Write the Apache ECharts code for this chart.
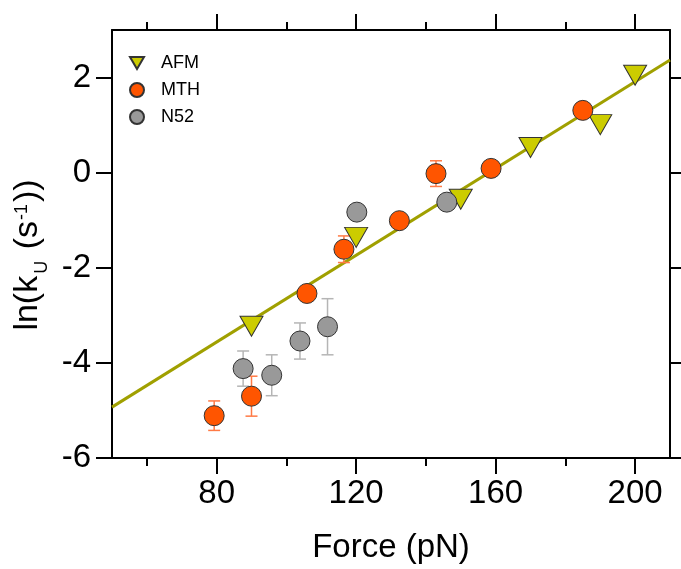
<!DOCTYPE html>
<html>
<head>
<meta charset="utf-8">
<script src="https://cdn.jsdelivr.net/npm/echarts@6/dist/echarts.min.js"></script>
<style>
  html, body { margin: 0; padding: 0; background: #fff; }
  #chart { width: 681px; height: 569px; }
</style>
</head>
<body>
<div id="chart"></div>
<script>
// Unfolding rate vs. force for three measurement methods
const afmForce = [90, 120, 150, 170, 190, 200];
const afmLnK   = [-3.23, -1.36, -0.56, 0.53, 1.01, 2.05];

const mthForce = [79.3, 90, 105.9, 116.5, 132.4, 142.9, 158.7, 185.0];
const mthLnK   = [-5.11, -4.70, -2.54, -1.61, -1.01, -0.02, 0.09, 1.31];
const mthErr   = [0.31, 0.42, 0, 0.28, 0, 0.27, 0, 0];

const n52Force = [87.6, 95.8, 103.9, 111.8, 120.2, 146.0];
const n52LnK   = [-4.12, -4.26, -3.54, -3.24, -0.83, -0.62];
const n52Err   = [0.37, 0.43, 0.38, 0.59, 0, 0];

// Linear fit endpoints across the force range
const fitForce = [50, 210];
const fitLnK   = [-4.93, 2.37];

const xMajorTicks = [80, 120, 160, 200];
const xMinorTicks = [60, 100, 140, 180];
const yMajorTicks = [-6, -4, -2, 0, 2];

const FONT = 'Liberation Sans, Arial, Helvetica, sans-serif';
const zip = (a, b) => a.map((v, i) => [v, b[i]]);
const errData = (xs, ys, es) => xs.map((x, i) => [x, ys[i] - es[i], ys[i] + es[i]]).filter((d, i) => es[i] > 0);

function errorBars(color) {
  return function (params, api) {
    const x = api.value(0);
    const lo = api.coord([x, api.value(1)]);
    const hi = api.coord([x, api.value(2)]);
    const half = 6;
    const style = { stroke: color, lineWidth: 1.5, fill: null };
    return {
      type: 'group',
      children: [
        { type: 'line', shape: { x1: lo[0], y1: lo[1], x2: hi[0], y2: hi[1] }, style },
        { type: 'line', shape: { x1: lo[0] - half, y1: lo[1], x2: lo[0] + half, y2: lo[1] }, style },
        { type: 'line', shape: { x1: hi[0] - half, y1: hi[1], x2: hi[0] + half, y2: hi[1] }, style }
      ]
    };
  };
}

const axisLineStyle = { color: '#000', width: 2 };

function xAxisDef(position, ticks, len, showLine, withLabels) {
  return {
    type: 'value', position, min: 50, max: 210,
    axisLine: { show: showLine, onZero: false, lineStyle: axisLineStyle },
    axisTick: { show: true, inside: false, length: len, customValues: ticks, lineStyle: { color: '#000', width: 2 } },
    axisLabel: withLabels
      ? { show: true, customValues: ticks, fontSize: 33, fontFamily: FONT, color: '#000', margin: 19 }
      : { show: false },
    splitLine: { show: false }
  };
}

const chart = echarts.init(document.getElementById('chart'), null, { renderer: 'canvas' });

chart.setOption({
  animation: false,
  backgroundColor: '#fff',
  grid: { left: 112, right: 11, top: 30, bottom: 111, containLabel: false, outerBoundsMode: 'none' },
  legend: {
    orient: 'vertical', left: 124, top: 49,
    itemWidth: 14, itemHeight: 14, itemGap: 9,
    textStyle: { fontSize: 18, fontFamily: FONT, color: '#000', padding: [0, 0, 0, 12], lineHeight: 18 },
    data: [
      { name: 'AFM', icon: 'path://M-1,-0.85 L1,-0.85 L0,0.85 Z' },
      { name: 'MTH', icon: 'circle' },
      { name: 'N52', icon: 'circle' }
    ]
  },
  xAxis: [
    Object.assign(xAxisDef('bottom', xMajorTicks, 16, true, true), {
      name: 'Force (pN)', nameLocation: 'middle', nameGap: 73,
      nameTextStyle: { fontSize: 33, fontFamily: FONT, color: '#000' }
    }),
    xAxisDef('bottom', xMinorTicks, 8, false, false),
    xAxisDef('top', xMajorTicks, 16, true, false),
    xAxisDef('top', xMinorTicks, 8, false, false)
  ],
  yAxis: [
    {
      type: 'value', position: 'left', min: -6, max: 3,
      axisLine: { show: true, onZero: false, lineStyle: axisLineStyle },
      axisTick: { show: true, inside: false, length: 16, customValues: yMajorTicks, lineStyle: { color: '#000', width: 2 } },
      axisLabel: { customValues: yMajorTicks, fontSize: 33, fontFamily: FONT, color: '#000', margin: 21 },
      splitLine: { show: false },
      name: '{n|ln(k}{sub|U}{n| (s}{sup|-1}{n|))}',
      nameLocation: 'middle', nameGap: 62, nameRotate: 90,
      nameTextStyle: {
        fontFamily: FONT, color: '#000', fontSize: 34,
        padding: [0, 22, 0, 0],
        rich: {
          n: { fontSize: 34, fontFamily: FONT, color: '#000', lineHeight: 40 },
          sub: { fontSize: 18, fontFamily: FONT, color: '#000', verticalAlign: 'bottom', lineHeight: 40, padding: [0, 2, -3, 2] },
          sup: { fontSize: 18, fontFamily: FONT, color: '#000', verticalAlign: 'top', lineHeight: 40, padding: [5, 2, 0, 1] }
        }
      }
    },
    {
      type: 'value', position: 'right', min: -6, max: 3,
      axisLine: { show: true, onZero: false, lineStyle: axisLineStyle },
      axisTick: { show: true, inside: false, length: 16, customValues: yMajorTicks, lineStyle: { color: '#000', width: 2 } },
      axisLabel: { show: false },
      splitLine: { show: false }
    }
  ],
  series: [
    {
      type: 'line', name: 'fit', data: zip(fitForce, fitLnK), symbol: 'none', z: 1,
      lineStyle: { color: '#a0a000', width: 3 }
    },
    {
      type: 'custom', name: 'MTH error', data: errData(mthForce, mthLnK, mthErr), z: 2,
      renderItem: errorBars('#ff7a45'), silent: true
    },
    {
      type: 'custom', name: 'N52 error', data: errData(n52Force, n52LnK, n52Err), z: 2,
      renderItem: errorBars('#b5b5b5'), silent: true
    },
    {
      type: 'scatter', name: 'AFM', data: zip(afmForce, afmLnK), z: 3,
      symbol: 'triangle', symbolRotate: 180, symbolSize: [23, 20],
      itemStyle: { color: '#cccc00', borderColor: '#333', borderWidth: 1, opacity: 1 }
    },
    {
      type: 'scatter', name: 'MTH', data: zip(mthForce, mthLnK), z: 4,
      symbol: 'circle', symbolSize: 20,
      itemStyle: { color: '#ff5500', borderColor: '#333', borderWidth: 1, opacity: 1 }
    },
    {
      type: 'scatter', name: 'N52', data: zip(n52Force, n52LnK), z: 5,
      symbol: 'circle', symbolSize: 20,
      itemStyle: { color: '#999999', borderColor: '#333', borderWidth: 1, opacity: 1 }
    }
  ]
});
</script>
</body>
</html>
